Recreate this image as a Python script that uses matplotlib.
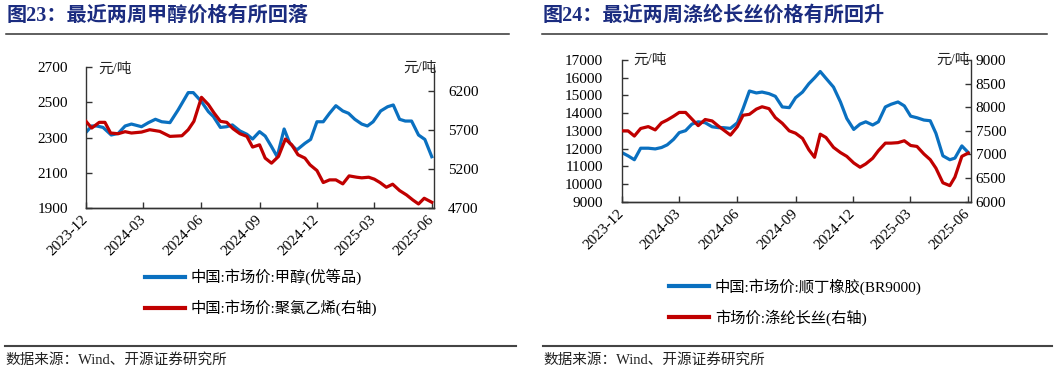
import matplotlib
matplotlib.use('Agg')
import matplotlib.pyplot as plt
import pandas as pd
from matplotlib.lines import Line2D
from matplotlib.font_manager import FontProperties

FAM = ['Liberation Serif', 'Noto Sans CJK SC', 'DejaVu Sans']
plt.rcParams['font.family'] = FAM
plt.rcParams['axes.unicode_minus'] = False

# ---------------- data: chart 23 (methanol / PVC) ----------------
methanol_dates = ['2023-12-01', '2023-12-10', '2023-12-18', '2023-12-28', '2024-01-10', '2024-01-21',
                  '2024-02-01', '2024-02-11', '2024-02-27', '2024-03-09', '2024-03-20', '2024-03-30',
                  '2024-04-12', '2024-04-25', '2024-05-11', '2024-05-19', '2024-06-01', '2024-06-12',
                  '2024-06-20', '2024-07-01', '2024-07-11', '2024-07-20', '2024-08-01', '2024-08-12',
                  '2024-08-21', '2024-09-01', '2024-09-10', '2024-09-20', '2024-09-29', '2024-10-10',
                  '2024-10-19', '2024-10-30', '2024-11-12', '2024-11-21', '2024-12-01', '2024-12-11',
                  '2024-12-21', '2024-12-31', '2025-01-11', '2025-01-20', '2025-01-30', '2025-02-10',
                  '2025-02-19', '2025-02-28', '2025-03-12', '2025-03-23', '2025-04-01', '2025-04-11',
                  '2025-04-20', '2025-04-30', '2025-05-11', '2025-05-21', '2025-06-01']
methanol_price = [2330, 2366, 2366, 2358, 2315, 2324, 2366, 2377, 2362, 2385,
                  2404, 2390, 2385, 2457, 2555, 2555, 2504, 2447, 2419, 2358,
                  2362, 2372, 2338, 2319, 2292, 2334, 2309, 2249, 2192, 2349,
                  2268, 2230, 2268, 2290, 2390, 2390, 2438, 2481, 2451, 2438,
                  2404, 2377, 2366, 2390, 2451, 2475, 2485, 2404, 2394, 2394,
                  2315, 2290, 2192]

pvc_dates = ['2023-12-01', '2023-12-10', '2023-12-22', '2023-12-31', '2024-01-09', '2024-01-21',
             '2024-02-01', '2024-02-11', '2024-02-27', '2024-03-11', '2024-03-27', '2024-04-12',
             '2024-05-01', '2024-05-11', '2024-05-20', '2024-06-01', '2024-06-12', '2024-06-21',
             '2024-07-01', '2024-07-11', '2024-07-21', '2024-08-01', '2024-08-12', '2024-08-21',
             '2024-09-01', '2024-09-10', '2024-09-20', '2024-10-01', '2024-10-12', '2024-10-22',
             '2024-11-01', '2024-11-12', '2024-11-20', '2024-12-01', '2024-12-11', '2024-12-21',
             '2024-12-31', '2025-01-11', '2025-01-21', '2025-02-02', '2025-02-10', '2025-02-21',
             '2025-03-02', '2025-03-11', '2025-03-21', '2025-03-31', '2025-04-11', '2025-04-22',
             '2025-05-02', '2025-05-11', '2025-05-20', '2025-06-01']
pvc_price = [5808, 5722, 5795, 5795, 5659, 5650, 5676, 5659, 5671, 5701,
             5680, 5616, 5624, 5701, 5808, 6114, 6021, 5914, 5808, 5795,
             5714, 5650, 5616, 5480, 5509, 5339, 5275, 5360, 5582, 5509,
             5382, 5339, 5254, 5181, 5028, 5062, 5062, 5011, 5113, 5096,
             5088, 5096, 5071, 5028, 4968, 5007, 4926, 4870, 4806, 4755,
             4828, 4777]

# ---------------- data: chart 24 (BR rubber / polyester filament) ----------------
chart24_dates = ['2023-12-01', '2023-12-11', '2023-12-21', '2023-12-31', '2024-01-12', '2024-01-23',
                 '2024-02-02', '2024-02-11', '2024-02-21', '2024-03-01', '2024-03-11', '2024-03-21',
                 '2024-03-31', '2024-04-11', '2024-04-22', '2024-05-02', '2024-05-10', '2024-05-21',
                 '2024-06-01', '2024-06-10', '2024-06-20', '2024-07-01', '2024-07-10', '2024-07-21',
                 '2024-07-31', '2024-08-11', '2024-08-22', '2024-09-01', '2024-09-12', '2024-09-22',
                 '2024-10-01', '2024-10-10', '2024-10-19', '2024-10-31', '2024-11-11', '2024-11-21',
                 '2024-12-02', '2024-12-12', '2024-12-21', '2025-01-01', '2025-01-10', '2025-01-21',
                 '2025-01-30', '2025-02-10', '2025-02-20', '2025-03-02', '2025-03-12', '2025-03-23',
                 '2025-04-02', '2025-04-11', '2025-04-22', '2025-05-03', '2025-05-11', '2025-05-22',
                 '2025-06-01']
br_price = [11780, 11590, 11370, 12020, 12020, 11980, 12060, 12210, 12520, 12900,
            13010, 13380, 13510, 13460, 13230, 13180, 13180, 13140, 13460, 14260,
            15250, 15140, 15190, 15100, 14950, 14350, 14310, 14870, 15190, 15660,
            15990, 16350, 15970, 15470, 14630, 13700, 13080, 13380, 13510, 13330,
            13510, 14350, 14500, 14630, 14410, 13830, 13740, 13610, 13570, 12860,
            11590, 11370, 11460, 12150, 11780]
polyester_price = [7500, 7500, 7390, 7550, 7590, 7520, 7670, 7730, 7810, 7890,
                   7890, 7750, 7610, 7740, 7710, 7600, 7520, 7410, 7590, 7830,
                   7850, 7960, 8010, 7970, 7780, 7660, 7500, 7450, 7340, 7100,
                   6940, 7430, 7360, 7150, 7040, 6960, 6820, 6730, 6800, 6920,
                   7080, 7240, 7240, 7250, 7290, 7190, 7170, 7010, 6890, 6710,
                   6400, 6340, 6520, 6960, 7030]

x_tick_dates = ['2023-12-01', '2024-03-01', '2024-06-01', '2024-09-01', '2024-12-01', '2025-03-01', '2025-06-01']
x_tick_labels = ['2023-12', '2024-03', '2024-06', '2024-09', '2024-12', '2025-03', '2025-06']

titles = ['图23：最近两周甲醇价格有所回落', '图24：最近两周涤纶长丝价格有所回升']
legend23 = ['中国:市场价:甲醇(优等品)', '中国:市场价:聚氯乙烯(右轴)']
legend24 = ['中国:市场价:顺丁橡胶(BR9000)', '市场价:涤纶长丝(右轴)']
unit = '元/吨'
source = '数据来源：Wind、开源证券研究所'

BLUE = '#0A70C0'
RED = '#C00000'
NAVY = '#1B2C80'
SPINE = '#333333'

W, H = 1057, 376
fig = plt.figure(figsize=(W / 100, H / 100), dpi=100)


def rect(l, t, r, b):
    return [l / W, 1 - b / H, (r - l) / W, (b - t) / H]


def fx(x):
    return x / W


def fy(y):
    return 1 - y / H


def build(r, d1, v1, d2, v2, ylim1, yt1, ylim2, yt2, padl, padr):
    ax = fig.add_axes(r)
    ax2 = ax.twinx()
    ax.plot(pd.to_datetime(d1), v1, color=BLUE, lw=2.3, solid_joinstyle='round')
    ax2.plot(pd.to_datetime(d2), v2, color=RED, lw=2.3, solid_joinstyle='round')
    ax.set_xlim(pd.Timestamp('2023-12-01'), pd.Timestamp('2025-06-05'))
    ax.set_ylim(*ylim1)
    ax.set_yticks(yt1)
    ax2.set_ylim(*ylim2)
    ax2.set_yticks(yt2)
    xt = pd.to_datetime(x_tick_dates)
    ax.set_xticks(xt)
    ax.set_xticklabels(x_tick_labels, rotation=45, ha='right', va='center',
                       rotation_mode='anchor')
    for a in (ax, ax2):
        a.spines['top'].set_visible(False)
        for s in a.spines.values():
            s.set_color(SPINE)
            s.set_linewidth(1.0)
    ax.spines['right'].set_visible(False)
    ax2.spines['left'].set_visible(False)
    ax.tick_params(axis='x', direction='in', length=4, width=1, color=SPINE, labelsize=11, pad=7)
    ax.tick_params(axis='y', direction='in', length=4, width=1, color=SPINE, labelsize=11, pad=padl)
    ax2.tick_params(axis='y', direction='in', length=4, width=1, color=SPINE, labelsize=11, pad=padr)
    return ax, ax2


# chart 23
build(rect(86, 67, 434.3, 208.3), methanol_dates, methanol_price, pvc_dates, pvc_price,
      (1900, 2700), list(range(1900, 2701, 200)), (4700, 6500), [4700, 5200, 5700, 6200], 13, 10)
# chart 24
build(rect(621.7, 60, 970.7, 201.7), chart24_dates, br_price, chart24_dates, polyester_price,
      (9000, 17000), list(range(9000, 17001, 1000)), (6000, 9000), list(range(6000, 9001, 500)), 13.5, 3.5)

# unit labels
ufp = dict(fontsize=10.5, color='#222222')
fig.text(fx(98), fy(69), unit, ha='left', va='center', **ufp)
fig.text(fx(437), fy(68), unit, ha='right', va='center', **ufp)
fig.text(fx(633), fy(60), unit, ha='left', va='center', **ufp)
fig.text(fx(970), fy(60), unit, ha='right', va='center', **ufp)

# titles and rules
fig.text(fx(7), fy(16), titles[0], ha='left', va='center', fontsize=14.5, fontweight='bold', color=NAVY)
fig.text(fx(543), fy(16), titles[1], ha='left', va='center', fontsize=14.5, fontweight='bold', color=NAVY)
for x0, x1 in [(6, 509), (542, 1047)]:
    fig.add_artist(Line2D([fx(x0), fx(x1)], [fy(33.5)] * 2, transform=fig.transFigure, color='#333333', lw=1.1))
for x0, x1 in [(5, 516), (543, 1052)]:
    fig.add_artist(Line2D([fx(x0), fx(x1)], [fy(346)] * 2, transform=fig.transFigure, color='#444444', lw=1.5))
fig.text(fx(5), fy(360), source, ha='left', va='center', fontsize=10.5, color='#222222')
fig.text(fx(543), fy(360), source, ha='left', va='center', fontsize=10.5, color='#222222')

# legends
lp = FontProperties(family=FAM, size=11)
h = [Line2D([], [], color=BLUE, lw=3), Line2D([], [], color=RED, lw=3)]
fig.legend(h, legend23, loc='center left', bbox_to_anchor=(fx(145), fy(292.5)), frameon=False,
           prop=lp, handlelength=2.6, handletextpad=0.4, labelspacing=0.95, borderpad=0, borderaxespad=0)
fig.legend(h, legend24, loc='center left', bbox_to_anchor=(fx(669), fy(302)), frameon=False,
           prop=lp, handlelength=2.6, handletextpad=0.4, labelspacing=0.95, borderpad=0, borderaxespad=0)

fig.savefig('out.png', dpi=100)
